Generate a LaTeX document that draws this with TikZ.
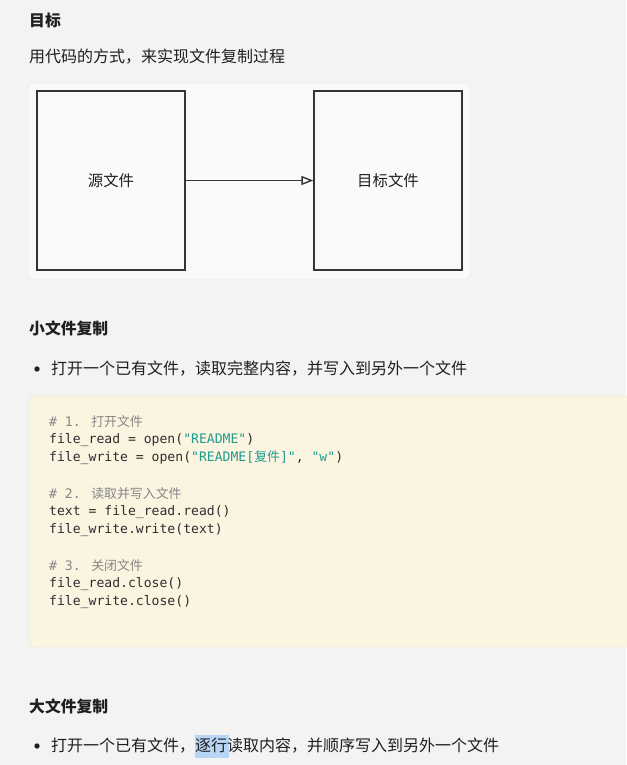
\documentclass[tikz,border=0pt]{standalone}
\usepackage{fontspec}
\usetikzlibrary{arrows.meta}
\newfontfamily\cjk{Noto Sans CJK SC}
\newfontfamily\mono{DejaVu Sans Mono}
\definecolor{pagebg}{HTML}{F3F3F3}
\definecolor{boxbg}{HTML}{FAFAFA}
\definecolor{boxline}{HTML}{E4E4E4}
\definecolor{codebg}{HTML}{FBF4E1}
\definecolor{codeline}{HTML}{E6DFCB}
\definecolor{ink}{HTML}{1F1F1F}
\definecolor{codeink}{HTML}{2E2E2E}
\definecolor{comment}{HTML}{858585}
\definecolor{strcol}{HTML}{1E9C8C}
\definecolor{hl}{HTML}{B7D5F4}
\tikzset{
  heading/.style={anchor=west, inner sep=0pt, font=\cjk\bfseries\fontsize{15.8}{18}\selectfont, text=ink},
  para/.style={anchor=west, inner sep=0pt, font=\cjk\fontsize{16}{18}\selectfont, text=ink},
  filebox/.style={draw=ink!90, line width=1.3pt, fill=boxbg},
  boxlabel/.style={inner sep=0pt, font=\cjk\fontsize{15.4}{18}\selectfont, text=ink},
  codetxt/.style={anchor=west, inner sep=0pt, font=\mono\fontsize{13.1}{15}\selectfont, text=codeink},
  cmt/.style={codetxt, text=comment},
  bulletdot/.style={circle, fill=ink, inner sep=0pt, minimum size=5.4pt}
}
\newcommand{\cs}[1]{{\cjk\fontsize{12.9}{15}\selectfont #1}}
\begin{document}
\begin{tikzpicture}[x=1pt,y=-1pt]
\useasboundingbox (0,0) rectangle (626,765);
\fill[pagebg] (0,0) rectangle (626,765);

% heading and intro
\node[heading] (h1) at (29,20) {目标};
\node[para] (intro) at (29,57) {用代码的方式，来实现文件复制过程};

% diagram panel
\draw[boxline, fill=boxbg, rounded corners=4pt] (29,83) rectangle (470,279);
\node[filebox, minimum width=148pt, minimum height=179pt] (src) at (111,180.5) {};
\node[boxlabel] (srcl) at (src.center) {源文件};
\node[filebox, minimum width=148pt, minimum height=179pt] (dst) at (388,180.5) {};
\node[boxlabel] (dstl) at (dst.center) {目标文件};
\draw[ink!90, line width=1.4pt, -{Triangle[open, length=12pt, width=9pt]}] (src.east) -- (dst.west);

% small file copy
\node[heading] (h2) at (29,328) {小文件复制};
\node[bulletdot] (b1) at (37,369) {};
\node[para] (p1) at (51,369) {打开一个已有文件，读取完整内容，并写入到另外一个文件};

% code block
\draw[codeline, fill=codebg, rounded corners=4pt] (29,396) rectangle (640,647);
\node[cmt] (c1) at (49,422) {\# 1. \cs{打开文件}};
\node[codetxt] (c2) at (49,440) {file\_read = open(\textcolor{strcol}{"README"})};
\node[codetxt] (c3) at (49,458) {file\_write = open(\textcolor{strcol}{"README[\cs{复件}]"}, \textcolor{strcol}{"w"})};
\node[cmt] (c4) at (49,494) {\# 2. \cs{读取并写入文件}};
\node[codetxt] (c5) at (49,512) {text = file\_read.read()};
\node[codetxt] (c6) at (49,530) {file\_write.write(text)};
\node[cmt] (c7) at (49,566) {\# 3. \cs{关闭文件}};
\node[codetxt] (c8) at (49,584) {file\_read.close()};
\node[codetxt] (c9) at (49,602) {file\_write.close()};

% large file copy
\node[heading] (h3) at (29,706) {大文件复制};
\node[bulletdot] (b2) at (37,746) {};
\fill[hl] (195,735) rectangle (229,758);
\node[para] (p2) at (51,746) {打开一个已有文件，逐行读取内容，并顺序写入到另外一个文件};
\end{tikzpicture}
\end{document}
